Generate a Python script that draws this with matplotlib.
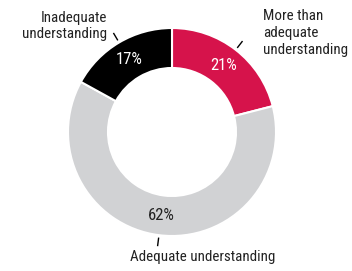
import numpy as np
import matplotlib.pyplot as plt

plt.rcParams['font.family'] = ['Roboto Condensed', 'Liberation Sans', 'DejaVu Sans']

categories = ['More than\nadequate\nunderstanding', 'Adequate understanding', 'Inadequate\nunderstanding']
values = [21, 62, 17]
colors = ['#d6134b', '#d1d2d4', '#000000']
pct_colors = ['white', '#222222', 'white']

# layout (pixel coords, origin bottom-left)
cx, cy, R = 172, 139, 104
label_pos = [(263, 238, 'left'), (130, 14, 'left'), (107, 245, 'right')]

fig = plt.figure(figsize=(3.52, 2.71), dpi=100)
ax = fig.add_axes([0, 0, 1, 1])

wedges, texts, autotexts = ax.pie(values, colors=colors, startangle=90, counterclock=False,
                                  center=(cx, cy), radius=R, autopct='%d%%', pctdistance=0.81,
                                  wedgeprops=dict(width=40, edgecolor='white', linewidth=1.5),
                                  textprops=dict(fontsize=12))
for t, c in zip(autotexts, pct_colors):
    t.set_color(c)

for w, lab, (lx, ly, ha) in zip(wedges, categories, label_pos):
    ang = np.deg2rad((w.theta1 + w.theta2) / 2)
    r0, r1 = R * 1.03, R * 1.10
    ax.plot([cx + r0 * np.cos(ang), cx + r1 * np.cos(ang)],
            [cy + r0 * np.sin(ang), cy + r1 * np.sin(ang)], color='black', lw=1)
    ax.text(lx, ly, lab, ha=ha, va='center', fontsize=10.8, color='#222222', linespacing=1.25,
            multialignment=ha)

ax.set_xlim(0, 352)
ax.set_ylim(0, 271)
ax.set_aspect('equal')
ax.axis('off')

fig.savefig('out.png', dpi=100)
